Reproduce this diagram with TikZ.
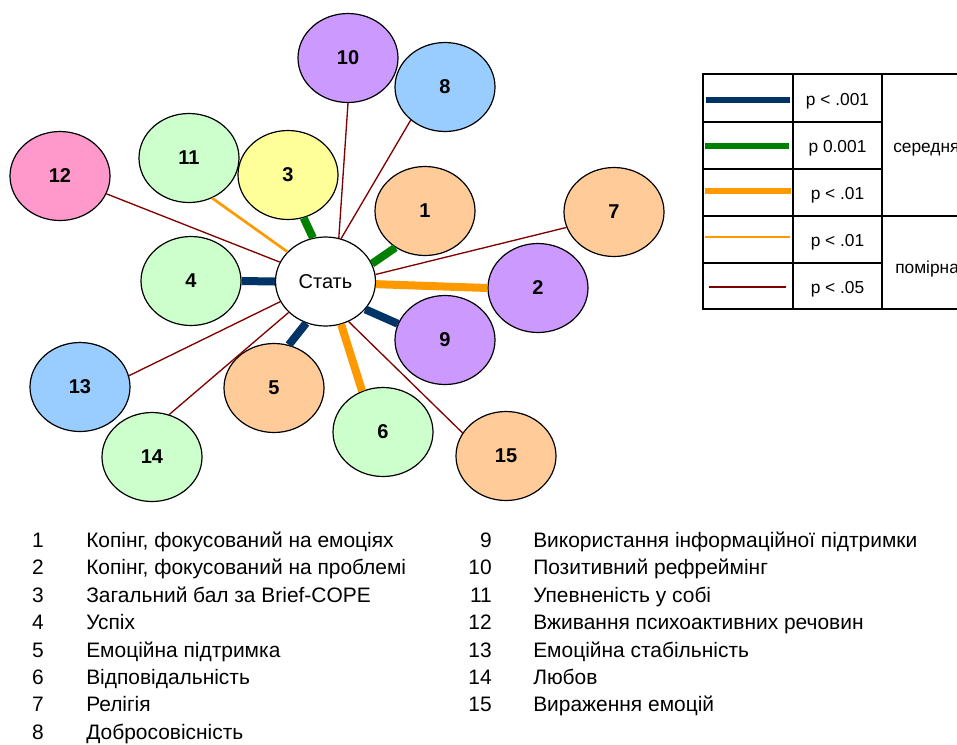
\documentclass[tikz,border=0pt]{standalone}
\usepackage{fontspec}
\setmainfont{Liberation Sans}
\usetikzlibrary{shapes.geometric}
\definecolor{peach}{HTML}{FFCC99}
\definecolor{lilac}{HTML}{CC99FF}
\definecolor{skyb}{HTML}{99CCFF}
\definecolor{mint}{HTML}{CCFFCC}
\definecolor{lemon}{HTML}{FFFF99}
\definecolor{rosec}{HTML}{FF99CC}
\definecolor{navyc}{HTML}{003366}
\definecolor{greenc}{HTML}{008000}
\definecolor{orangec}{HTML}{FF9900}
\definecolor{redc}{HTML}{800000}
\begin{document}
\begin{tikzpicture}[x=0.75pt,y=-0.75pt,
  bub/.style={ellipse,draw,line width=0.9pt,minimum width=75pt,minimum height=66.75pt,
    inner sep=0pt,font=\bfseries\fontsize{15}{18}\selectfont},
  thickblue/.style={line width=6pt,draw=navyc},
  thickgreen/.style={line width=6pt,draw=greenc},
  thickorange/.style={line width=6pt,draw=orangec},
  thinorange/.style={line width=2pt,draw=orangec},
  thinred/.style={line width=1pt,draw=redc},
  frame/.style={line width=1.2pt},
  legtext/.style={anchor=base,inner sep=0pt,font=\fontsize{13}{15}\selectfont},
  listnum/.style={anchor=base,inner sep=0pt,font=\fontsize{15.7}{19}\selectfont},
  listtext/.style={anchor=base west,inner sep=0pt,font=\fontsize{15.7}{19}\selectfont}]
\useasboundingbox (0,0) rectangle (957,744);
% bubbles
\node[bub,fill=white,font=\fontsize{15}{18}\selectfont] (stat) at (325.5,281.5) {Стать};
\foreach \n/\x/\y/\c in {1/425/211/peach,2/538/288/lilac,3/288/175/lemon,4/191/281/mint,
  5/274/388/peach,6/383/432/mint,7/614/212/peach,8/445/87/skyb,9/445/340/lilac,
  10/348/58/lilac,11/189/158/mint,12/60/176/rosec,13/80/387/skyb,14/152/457/mint,
  15/506/456/peach}
  \node[bub,fill=\c] (n\n) at (\x,\y) {\n};
% strong links
\draw[thickgreen] (stat.106) -- (n3.290);
\draw[thickgreen] (stat.21) -- (n1.231);
\draw[thickblue] (stat.180) -- (n4.0);
\draw[thickblue] (stat.325) -- (n9.161);
\draw[thickblue] (stat.245) -- (n5.71);
\draw[thickorange] (stat.357) -- (n2.180);
\draw[thickorange] (stat.290) -- (n6.117);
% weak links
\draw[thinorange] (stat.142) -- (n11.300);
\draw[thinred] (stat.157) -- (n12.339);
\draw[thinred] (stat.73) -- (n10.270);
\draw[thinred] (stat.70) -- (n8.224);
\draw[thinred] (stat.8) -- (n7.198);
\draw[thinred] (stat.204) -- (n13.13);
\draw[thinred] (stat.220) -- (n14.68);
\draw[thinred] (stat.300) -- (n15.152);
% legend
\begin{scope}
\clip (0,0) rectangle (957,744);
\draw[frame] (703,74) rectangle (1010,309);
\draw[frame] (793,74) -- (793,309) (882,74) -- (882,309);
\foreach \y in {122,169,263} \draw[frame] (703,\y) -- (882,\y);
\draw[frame] (703,216) -- (1010,216);
\node[legtext,anchor=base west] (mid) at (893,152) {середня};
\node[legtext,anchor=base west] (mod) at (895,273) {помірна};
\end{scope}
\draw[thickblue,line width=4.5pt] (706,100) -- (790,100);
\draw[thickgreen,line width=4.5pt] (705,146) -- (789,146);
\draw[thickorange,line width=4.5pt] (705,191) -- (791,191);
\draw[thinorange] (705,237) -- (790,237);
\draw[thinred] (709,287) -- (786,287);
\node[legtext] (p1) at (837.5,105) {p < .001};
\node[legtext] (p2) at (837.5,152.5) {p 0.001};
\node[legtext] (p3) at (837.5,199.5) {p < .01};
\node[legtext] (p4) at (837.5,246.5) {p < .01};
\node[legtext] (p5) at (837.5,293) {p < .05};
% list of scales
\foreach \t [count=\i] in {{Копінг, фокусований на емоціях},{Копінг, фокусований на проблемі},
  {Загальний бал за Brief-COPE},Успіх,{Емоційна підтримка},Відповідальність,Релігія,
  Добросовісність}
  {\node[listnum] (k\i) at (38,{547.5+27.4*(\i-1)}) {\i};
   \node[listtext] (t\i) at (86,{547.5+27.4*(\i-1)}) {\t};}
\foreach \t [count=\j] in {{Використання інформаційної підтримки},{Позитивний рефреймінг},
  {Упевненість у собі},{Вживання психоактивних речовин},{Емоційна стабільність},Любов,
  {Вираження емоцій}}
  {\pgfmathtruncatemacro\k{\j+8}
   \node[listnum,anchor=base east] (k\k) at (492,{547.5+27.4*(\j-1)}) {\k};
   \node[listtext] (t\k) at (533,{547.5+27.4*(\j-1)}) {\t};}
\end{tikzpicture}
\end{document}
